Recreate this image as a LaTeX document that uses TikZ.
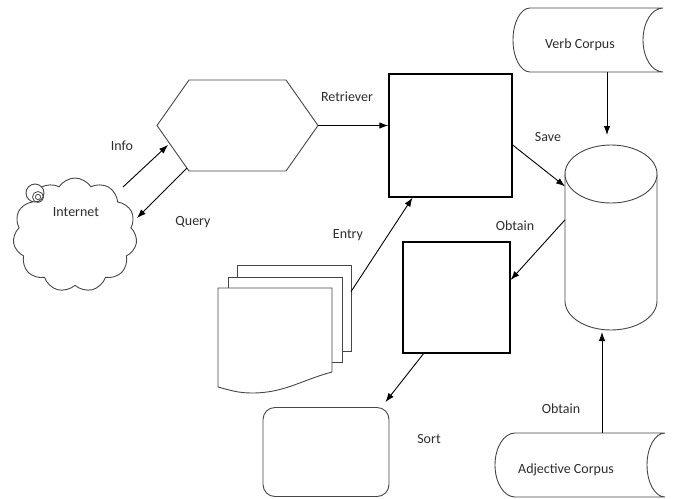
\documentclass[tikz,border=0pt]{standalone}
\usepackage{fontspec}
\setsansfont{Carlito}
\usetikzlibrary{arrows.meta,positioning,shapes.symbols,calc}
\definecolor{cLine}{RGB}{70,70,70}
\definecolor{cText}{RGB}{45,45,45}

\begin{document}
\begin{tikzpicture}[x=1pt,y=1pt,>={Latex[length=9pt,width=6.5pt]},font=\sffamily\fontsize{14}{16}\selectfont,
  sq/.style={draw,line width=1.3pt,inner sep=0pt},
  shp/.style={draw=cLine,line width=0.9pt,fill=white},
  hold/.style={inner sep=0pt,outer sep=0pt},
  lab/.style={text=cText,inner sep=1pt},
  con/.style={->,line width=0.9pt}]
  \useasboundingbox (0,0) rectangle (674,-498);
  % cloud
  \node[shp,cloud,cloud puffs=11,cloud puff arc=115,aspect=1.05,minimum width=124,minimum height=114,hold] (net) at (75,-235) {};
  \draw[shp] ($(net.center)+(-40,42)$) circle[radius=9];
  \draw[cLine,line width=0.8pt] ($(net.center)+(-37,38)$) circle[radius=5.5] ($(net.center)+(-37,38)$) circle[radius=2.6];
  \node[lab] (netlbl) at (76,-212) {Internet};
  % hexagon
  \node[hold,minimum width=161,minimum height=91] (hex) at (237.5,-125.5) {};
  \draw[shp] (hex.west) -- ($(hex.north west)+(32,0)$) -- ($(hex.north east)+(-32,0)$) -- (hex.east)
    -- ($(hex.south east)+(-32,0)$) -- ($(hex.south west)+(32,0)$) -- cycle;
  % boxes
  \node[sq,minimum width=123,minimum height=123] (ret) at (450.5,-135.5) {};
  \node[sq,minimum width=107,minimum height=111] (obt) at (456.5,-297.5) {};
  % database
  \node[hold,minimum width=92,minimum height=185] (db) at (611,-237.5) {};
  \draw[shp] ($(db.north west)+(0,-29)$) -- ($(db.south west)+(0,29)$) arc[start angle=180,end angle=360,x radius=46,y radius=29]
    -- ($(db.north east)+(0,-29)$);
  \draw[shp] ($(db.north)+(0,-29)$) ellipse[x radius=46,y radius=29];
  % corpora
  \node[hold,minimum width=150,minimum height=64] (verb) at (588,-40) {};
  \draw[shp] ($(verb.north west)+(17,0)$) -- (verb.north east) arc[start angle=90,end angle=270,x radius=20,y radius=32]
    -- ($(verb.south west)+(17,0)$) arc[start angle=270,end angle=90,x radius=17,y radius=32] -- cycle;
  \node[lab] (verblbl) at (580,-45) {Verb Corpus};
  \node[hold,minimum width=170,minimum height=64] (adj) at (580,-465) {};
  \draw[shp] ($(adj.north west)+(20,0)$) -- (adj.north east) arc[start angle=90,end angle=270,x radius=18,y radius=32]
    -- ($(adj.south west)+(20,0)$) arc[start angle=270,end angle=90,x radius=20,y radius=32] -- cycle;
  \node[lab] (adjlbl) at (566,-470) {Adjective Corpus};
  % document stack
  \node[shp,hold,minimum width=114,minimum height=86] (doc3) at (294,-308) {};
  \node[shp,hold,minimum width=114,minimum height=85] (doc2) at (285,-319.5) {};
  \node[hold,minimum width=114,minimum height=84] (doc1) at (275,-330) {};
  \draw[shp] (doc1.south east) -- (doc1.north east) -- (doc1.north west) -- ($(doc1.south west)+(0,-15)$)
    to[out=-15,in=180] ($(doc1.south west)+(34,-21)$) to[out=0,in=195] (doc1.south east);
  % result
  \node[shp,rounded corners=12pt,minimum width=126,minimum height=89] (res) at (326,-452) {};
  % connectors
  \draw[con] ($(net.center)+(48,48)$) -- ($(hex.west)+(11,-19.5)$);
  \draw[con] ($(hex.west)+(30,-42.5)$) -- ($(net.center)+(62,17)$);
  \draw[con] (hex.east) -- (hex.east -| ret.west);
  \draw[con] ($(ret.east)+(0,-9.5)$) -- (db.132);
  \draw[con] (db.159) -- ($(obt.east)+(0,17.5)$);
  \draw[con] (doc3.16) -- ($(ret.south)+(-38,0)$);
  \draw[con] ($(obt.south)+(-33,0)$) -- ($(res.north east)+(-4,5)$);
  \draw[con] ($(verb.south)+(19,0)$) -- ($(db.north)+(-4,10)$);
  \draw[con] ($(adj.north)+(22,0)$) -- ($(db.south)+(-9,-2)$);
  % labels
  \node[lab] (infolbl) at (122,-146) {Info};
  \node[lab] (querylbl) at (193,-222) {Query};
  \node[lab] (retlbl) at (347,-97) {Retriever};
  \node[lab] (savelbl) at (548,-137) {Save};
  \node[lab] (entrylbl) at (348,-235) {Entry};
  \node[lab] (obtlbl) at (515,-226) {Obtain};
  \node[lab] (obtlbl2) at (561,-409) {Obtain};
  \node[lab] (sortlbl) at (429,-439) {Sort};
\end{tikzpicture}
\end{document}
